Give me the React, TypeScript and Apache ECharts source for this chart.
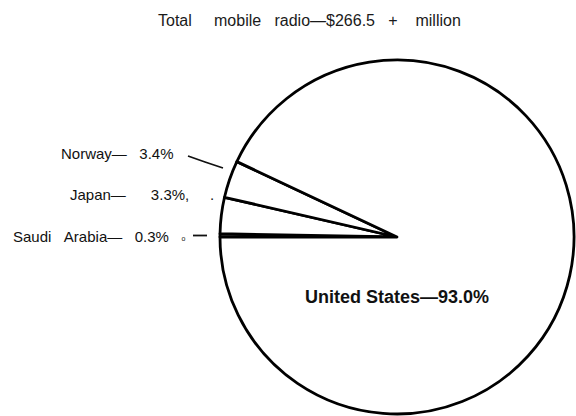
import React, { useEffect, useRef } from "react";
import * as echarts from "echarts";

// ---- data ----
const categories = ["Saudi Arabia", "Japan", "Norway", "United States"];
const shares = [0.3, 3.3, 3.4, 93.0];
const totalMillions = 266.5;

// ---- style helpers (positions / spacing only) ----
const SP = "\u00A0";
const sp = (n: number) => SP.repeat(n);
const FONT = "'Liberation Sans', Arial, Helvetica, sans-serif";
const nameGap = [3, 0, 0, 1];
const valueGap = [3, 6, 3, 0];
const labelPos: [number, number][] = [
  [13, 236],
  [70, 194],
  [61, 153],
  [305, 297],
];
const linePts: ([number, number][] | null)[] = [
  [[193, 235.5], [200, 235.5], [207, 235.5]],
  null,
  [[188, 156], [205, 162], [223, 168]],
  null,
];

function labelText(i: number): string {
  const name = categories[i].replace(" ", sp(nameGap[i]));
  const v = shares[i].toFixed(1) + "%";
  if (i === 3) return name + "—" + v;
  let s = name + "—" + sp(valueGap[i]) + v;
  if (i === 1) return "{m|" + s + "," + sp(5) + ".}";
  if (i === 0) return "{m|" + s + sp(3) + "}{o|o}";
  return "{m|" + s + "}";
}

export default function App() {
  const ref = useRef<HTMLDivElement>(null);
  useEffect(() => {
    document.body.style.margin = "0";
    if (!ref.current) return;
    const chart = echarts.init(ref.current, undefined, { renderer: "svg" });
    const title =
      "Total" + sp(5) + "mobile" + sp(3) + "radio—$" + totalMillions.toFixed(1) + sp(3) + "+" + sp(4) + "million";
    chart.setOption({
      animation: false,
      backgroundColor: "#fff",
      title: {
        text: title,
        left: 158,
        top: 12,
        padding: 0,
        textStyle: { fontSize: 16, fontWeight: "normal", fontFamily: FONT, color: "#1a1a1a" },
      },
      series: [
        {
          type: "pie",
          center: [397, 237],
          radius: 177,
          startAngle: 180,
          clockwise: true,
          avoidLabelOverlap: false,
          silent: true,
          emphasis: { disabled: true },
          itemStyle: { color: "#fff", borderColor: "#000", borderWidth: 2.8 },
          label: {
            show: true,
            position: "outside",
            color: "#111",
            fontSize: 15,
            fontFamily: FONT,
            formatter: (p: any) => labelText(p.dataIndex),
            rich: {
              m: { fontSize: 15, fontFamily: FONT, color: "#111" },
              o: { fontSize: 7, fontFamily: FONT, color: "#111", padding: [5, 0, 0, 0] },
            },
          },
          labelLine: { show: true, lineStyle: { color: "#111", width: 1.8 } },
          labelLayout: (params: any) => {
            const i = params.dataIndex;
            const out: any = {
              x: labelPos[i][0],
              y: labelPos[i][1],
              align: "left",
              verticalAlign: "middle",
            };
            if (linePts[i]) out.labelLinePoints = linePts[i];
            return out;
          },
          data: categories.map((name, i) => ({
            name,
            value: shares[i],
            labelLine: { show: !!linePts[i] },
            label:
              i === 3
                ? { fontSize: 18, fontWeight: "bold", color: "#111", fontFamily: FONT }
                : undefined,
          })),
        },
      ],
    });
    return () => chart.dispose();
  }, []);
  return <div ref={ref} style={{ width: 576, height: 416 }} />;
}
